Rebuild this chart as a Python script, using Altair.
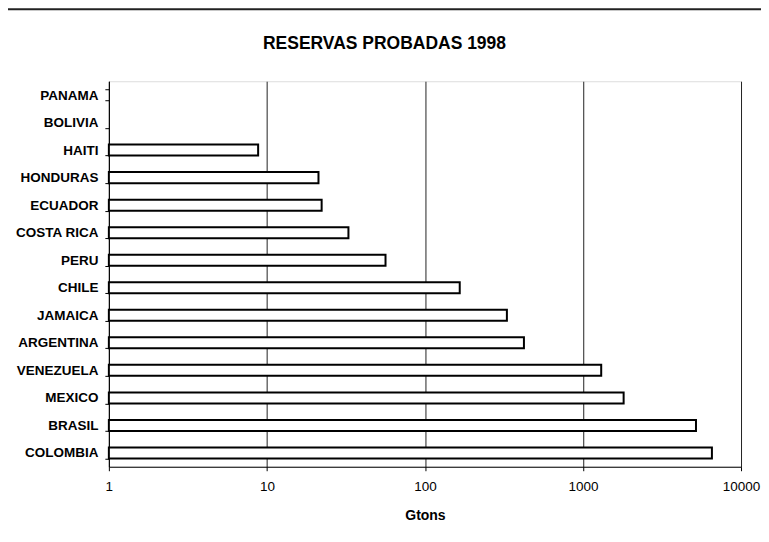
import altair as alt
import pandas as pd

# ---- data ----
countries = ["PANAMA", "BOLIVIA", "HAITI", "HONDURAS", "ECUADOR", "COSTA RICA",
             "PERU", "CHILE", "JAMAICA", "ARGENTINA", "VENEZUELA", "MEXICO",
             "BRASIL", "COLOMBIA"]
reserves = [None, None, 8.8, 21.2, 22.2, 32.8, 56.3, 166, 330, 423, 1304, 1808,
            5188, 6543]
x_ticks = [1, 10, 100, 1000, 10000]
chart_title = "RESERVAS PROBADAS 1998"

df = pd.DataFrame({"pais": countries, "gtons": reserves})

W, H = 633, 386
FONT = "Liberation Sans"

bars = (
    alt.Chart(df)
    .transform_filter("isValid(datum.gtons)")
    .mark_bar(fill="white", stroke="black", strokeWidth=2)
    .encode(
        y=alt.Y(
            "pais:N",
            sort=countries,
            title=None,
            scale=alt.Scale(domain=countries, paddingInner=0.6, paddingOuter=0.3),
            axis=alt.Axis(
                tickBand="extent",
                tickSize=4,
                tickColor="black",
                domainColor="black",
                labelFont=FONT,
                labelFontSize=13.5,
                labelFontWeight="bold",
                labelColor="black",
                labelPadding=7,
                grid=False,
            ),
        ),
        x=alt.X(
            "gtons:Q",
            scale=alt.Scale(type="log", domain=[1, 10000]),
            title="Gtons",
            axis=alt.Axis(
                values=x_ticks,
                format="d",
                tickSize=4,
                tickColor="black",
                domainColor="black",
                labelFont=FONT,
                labelFontSize=13.5,
                labelColor="black",
                labelPadding=9,
                labelFlush=False,
                titleFont=FONT,
                titleFontSize=14,
                titleFontWeight="bold",
                titleColor="black",
                titlePadding=15,
                grid=True,
                gridColor="#222",
                gridWidth=1,
            ),
        ),
        x2=alt.datum(1),
    )
)

frame = pd.DataFrame({"k": [0]})
top_rule = alt.Chart(frame).mark_rule(color="#222", strokeWidth=2).encode(
    x=alt.value(-101), x2=alt.value(653), y=alt.value(-72)
)
title_text = alt.Chart(frame).mark_text(
    font=FONT, fontSize=17.5, fontWeight="bold", color="black",
    align="center", baseline="alphabetic",
).encode(
    x=alt.value(276), y=alt.value(-32), text=alt.value(chart_title)
)

chart = (
    alt.layer(bars, top_rule, title_text)
    .properties(
        width=W,
        height=H,
        autosize=alt.AutoSizeParams(type="none"),
        padding={"left": 101, "top": 73, "right": 20, "bottom": 60},
    )
    .configure_view(stroke="black", strokeWidth=1.5)
    .configure(background="white")
)

chart.save("out.html", embed_options={"renderer": "svg", "actions": False})
